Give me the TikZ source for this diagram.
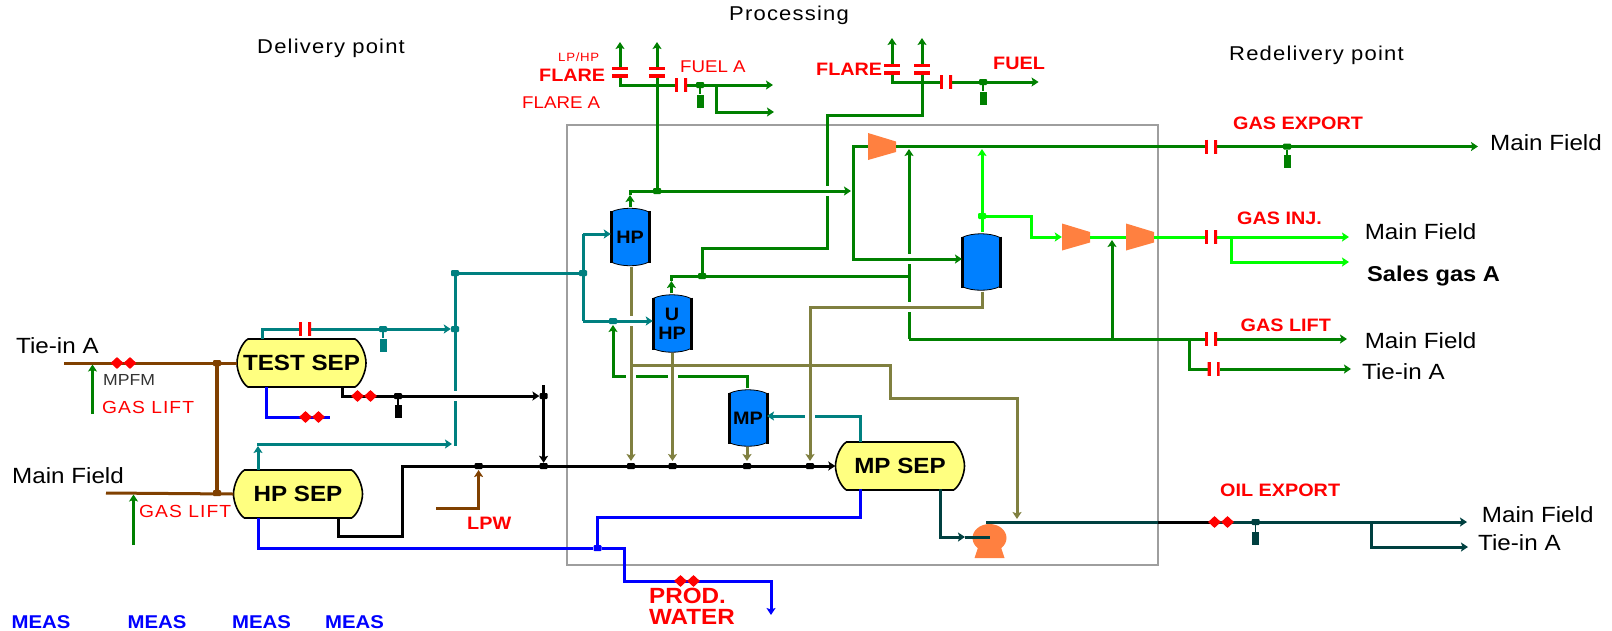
\documentclass[tikz,border=0pt]{standalone}
\usepackage{fontspec}
\setmainfont{Liberation Sans}[FakeStretch=1.1]
\newfontfamily\spacedfont{Liberation Sans}[FakeStretch=1.1,LetterSpace=6]
\usetikzlibrary{arrows.meta, shapes.geometric}
\definecolor{pipegreen}{RGB}{0,128,0}
\definecolor{pipelime}{RGB}{0,255,0}
\definecolor{pipeteal}{RGB}{0,128,128}
\definecolor{pipedark}{RGB}{0,64,64}
\definecolor{pipebrown}{RGB}{128,64,0}
\definecolor{pipeolive}{RGB}{128,128,64}
\definecolor{pipeblue}{RGB}{0,0,255}
\definecolor{drumblue}{RGB}{0,128,255}
\definecolor{sepyellow}{RGB}{255,255,128}
\definecolor{machineorange}{RGB}{255,128,64}
\newcommand{\sz}[1]{\fontsize{#1}{#1}\selectfont}
% name, x, y, label
\newcommand{\separator}[4]{
	\filldraw [fill=sepyellow, draw=black, line width=1.6pt]
		(#2-53.5,#3-24) -- (#2+53.5,#3-24)
		.. controls (#2+59,#3-21) and (#2+64.5,#3-9) .. (#2+64.5,#3)
		.. controls (#2+64.5,#3+9) and (#2+59,#3+21) .. (#2+53.5,#3+24)
		-- (#2-53.5,#3+24)
		.. controls (#2-59,#3+21) and (#2-64.5,#3+9) .. (#2-64.5,#3)
		.. controls (#2-64.5,#3-9) and (#2-59,#3-21) .. cycle;
	\node (#1) [sepnode] at (#2,#3) {#4};
}
% name, x, y, half height, label
\newcommand{\drum}[5]{
	\filldraw [fill=drumblue, draw=black, line width=.8pt]
		(#2-19,#3-#4+5) .. controls (#2-9,#3-#4) and (#2+9,#3-#4) .. (#2+19,#3-#4+5)
		-- (#2+19,#3+#4-5) .. controls (#2+9,#3+#4) and (#2-9,#3+#4) .. (#2-19,#3+#4-5) -- cycle;
	\draw [black, line width=3pt] (#2-19,#3-#4+4) -- (#2-19,#3+#4-4) (#2+19,#3-#4+4) -- (#2+19,#3+#4-4);
	\node (#1) [drumnode, minimum height=2*#4] at (#2,#3) {#5};
}
% name, x, y
\newcommand{\compressor}[3]{
	\fill [machineorange] (#2-14,#3-13.5) -- (#2+14,#3-5) -- (#2+14,#3+5.5) -- (#2-14,#3+13.5) -- cycle;
	\node (#1) [machinenode] at (#2,#3) {};
}
% name, x, y
\newcommand{\pump}[3]{
	\fill [machineorange] (#2,#3) ellipse [x radius=17, y radius=14];
	\fill [machineorange] (#2-11,#3+8) -- (#2+11,#3+8) -- (#2+15,#3+20) -- (#2-15,#3+20) -- cycle;
	\node (#1) [machinenode] at (#2,#3) {};
}
% name, x, y
\newcommand{\meter}[3]{
	\node (#1a) [meternode] at (#2-6.5,#3) {};
	\node (#1b) [meternode] at (#2+6.5,#3) {};
}

\begin{document}
\begin{tikzpicture} [x=1pt, y=-1pt,
		% define styles
		sepnode/.style={
			rectangle,
			minimum width=129pt,
			minimum height=48pt,
			inner sep=0pt,
			font=\sz{22}\bfseries
		},
		drumnode/.style={
			rectangle,
			minimum width=38pt,
			inner sep=0pt,
			align=center,
			font=\sz{18}\bfseries
		},
		machinenode/.style={
			rectangle,
			minimum width=28pt,
			minimum height=27pt,
			inner sep=0pt
		},
		meternode/.style={
			diamond,
			fill=red,
			minimum width=13pt,
			minimum height=12pt,
			inner sep=0pt
		},
		orificeh/.style={
			rectangle,
			fill=white,
			minimum width=12pt,
			minimum height=14pt,
			inner sep=0pt,
			path picture={\draw [red, line width=6pt]
				(path picture bounding box.north west) -- (path picture bounding box.south west)
				(path picture bounding box.north east) -- (path picture bounding box.south east);}
		},
		orificev/.style={
			rectangle,
			fill=white,
			minimum width=16pt,
			minimum height=10pt,
			inner sep=0pt,
			path picture={\draw [red, line width=6pt]
				(path picture bounding box.north west) -- (path picture bounding box.north east)
				(path picture bounding box.south west) -- (path picture bounding box.south east);}
		},
		dotnode/.style={
			rectangle,
			fill=#1,
			rounded corners=1pt,
			minimum width=8pt,
			minimum height=6pt,
			inner sep=0pt
		},
		blindnode/.style={
			rectangle,
			fill=#1,
			minimum width=7pt,
			minimum height=13pt,
			inner sep=0pt
		},
		gapnode/.style={
			rectangle,
			fill=white,
			inner sep=0pt,
			minimum width=#1
		},
		gapv/.style={gapnode=10pt, minimum height=10pt},
		pipe/.style={
			line width=3pt,
			>={Stealth[length=7pt, width=9pt, inset=1.5pt]}
		},
		greenline/.style={pipe, pipegreen},
		limeline/.style={pipe, pipelime},
		tealline/.style={pipe, pipeteal},
		darkline/.style={pipe, pipedark},
		brownline/.style={pipe, pipebrown},
		oliveline/.style={pipe, pipeolive},
		blueline/.style={pipe, pipeblue},
		blackline/.style={pipe, black},
		titlenode/.style={anchor=west, inner sep=0pt, font=\sz{20}\spacedfont},
		placenode/.style={anchor=west, inner sep=0pt, font=\sz{22}},
		tagnode/.style={anchor=west, inner sep=0pt, text=red, font=\sz{18}\bfseries},
		liftnode/.style={anchor=west, inner sep=0pt, text=red, font=\sz{17.5}\spacedfont},
		fuelnode/.style={anchor=west, inner sep=0pt, text=red, font=\sz{17}},
		measnode/.style={anchor=west, inner sep=0pt, text=pipeblue, font=\sz{18.5}\bfseries}
		]
		% end of style definition
		\useasboundingbox (0,0) rectangle (1612,630);

		% plant boundary
		\node (iPlant) [draw=black!38, line width=1.5pt, minimum width=591pt, minimum height=440pt, inner sep=0pt] at (862.5,345) {};

		% draw vessels and machines
		\separator{iTestSep}{301.5}{363}{TEST SEP}
		\separator{iHpSep}{298}{494}{HP SEP}
		\separator{iMpSep}{900}{466}{MP SEP}
		\drum{iHp}{630}{237}{30}{HP}
		\drum{iUHp}{672}{323.5}{30}{U\\[1pt]HP}
		\drum{iMp}{748}{418}{29.5}{MP}
		\drum{iDrum}{981}{262}{29.5}{}
		\compressor{iComp1}{882}{146.5}
		\compressor{iComp2}{1076}{237}
		\compressor{iComp3}{1140}{237}
		\pump{iPump}{989.5}{538}

		% free ends and bends
		\coordinate (iTieIn) at (64,363);
		\coordinate (iMainIn) at (106,493);
		\coordinate (iLift1) at (92.5,414);
		\coordinate (iLift1Top) at (92.5,364.5);
		\coordinate (iLift2) at (133.5,545);
		\coordinate (iLift2Top) at (133.5,494.5);
		\coordinate (iTestGas) at (262,339);
		\coordinate (iTestOil) at (342,387);
		\coordinate (iTestWater) at (266,387);
		\coordinate (iTestWaterEnd) at (330,417);
		\coordinate (iHpGas) at (258,470);
		\coordinate (iHpGasTip) at (258,446);
		\coordinate (iHpOil) at (338.6,518);
		\coordinate (iHpWater) at (258,518);
		\coordinate (iBlackA) at (402,536);
		\coordinate (iBlackB) at (402,466);
		\coordinate (iLpwIn) at (436,508);
		\coordinate (iLpwTip) at (478.6,470);
		\coordinate (iTealB) at (455,445.5);
		\coordinate (iTealTip) at (452,444);
		\coordinate (iTealHp) at (583,234);
		\coordinate (iTealUHp) at (583,321);
		\coordinate (iHpTip) at (630,195);
		\coordinate (iUHpTip) at (671.4,281);
		\coordinate (iUHpEnd) at (909,276);
		\coordinate (iFlare1) at (620,42);
		\coordinate (iFuelAEnd) at (773,85);
		\coordinate (iFlare2) at (657,42);
		\coordinate (iFuelABranch) at (716,85);
		\coordinate (iFuelAEnd2) at (774,112);
		\coordinate (iFlare3) at (892,38);
		\coordinate (iFuelEnd) at (1038.6,82);
		\coordinate (iFlare4) at (922,38);
		\coordinate (iFlare4A) at (827,115);
		\coordinate (iFlare4B) at (702,248);
		\coordinate (iHeaderEnd) at (851,191);
		\coordinate (iCompDown) at (853,259);
		\coordinate (iDrumIn) at (962,259);
		\coordinate (iExportEnd) at (1478,146.5);
		\coordinate (iLiftCorner) at (909,339);
		\coordinate (iLiftTip) at (909,149);
		\coordinate (iLiftEnd) at (1347,339);
		\coordinate (iLiftBranch) at (1189,339);
		\coordinate (iLiftEnd2) at (1351,369);
		\coordinate (iLiftTee) at (1112,339);
		\coordinate (iLiftUp) at (1112,240);
		\coordinate (iDrumTip) at (982,149);
		\coordinate (iLimeBend) at (1031,237);
		\coordinate (iGasEnd) at (1349,237);
		\coordinate (iGasBranch) at (1231.6,239);
		\coordinate (iSalesEnd) at (1349,262);
		\coordinate (iMpGasOut) at (860.7,442);
		\coordinate (iMpWaterOut) at (860.7,489);
		\coordinate (iMpOilOut) at (940,489);
		\coordinate (iPumpIn) at (965,537);
		\coordinate (iPumpMid) at (990,537);
		\coordinate (iOilStart) at (986,522);
		\coordinate (iBoxEdge) at (1158,522);
		\coordinate (iOilEnd) at (1467,522);
		\coordinate (iOilBranch) at (1371,522);
		\coordinate (iOilEnd2) at (1468,547);
		\coordinate (iOilMeterIn) at (1212,522);
		\coordinate (iOliveA) at (631,267);
		\coordinate (iOliveTip1) at (631,461);
		\coordinate (iOliveJoin) at (631,365);
		\coordinate (iOliveB) at (890,398);
		\coordinate (iOliveTip2) at (1017,519);
		\coordinate (iOliveC) at (672.5,353);
		\coordinate (iOliveTip3) at (672.5,461);
		\coordinate (iOliveD) at (747,447);
		\coordinate (iOliveTip4) at (747,461);
		\coordinate (iOliveE) at (982,291.5);
		\coordinate (iOliveF) at (810,307);
		\coordinate (iOliveTip5) at (810,461);
		\coordinate (iMpGreen) at (747,389);
		\coordinate (iMpGreenB) at (613,376);
		\coordinate (iMpGreenTip) at (613,325);
		\coordinate (iMpTeal) at (860.7,416);
		\coordinate (iMpTealEnd) at (767,416);
		\coordinate (iBlueCorner) at (597.5,517);
		\coordinate (iBlueBend) at (624,581);
		\coordinate (iBlueEnd) at (771,615);
		\coordinate (iBlackTop) at (543.6,385);

		% draw junctions
		\node (iBrown1) [dotnode=pipebrown] at (217,363) {};
		\node (iBrown2) [dotnode=pipebrown] at (217,493) {};
		\node (iTestTee) [dotnode=pipeteal] at (383,329) {};
		\node (iTealDot1) [dotnode=pipeteal] at (455,329) {};
		\node (iTealDot2) [dotnode=pipeteal] at (455,273) {};
		\node (iTealDot3) [dotnode=pipeteal] at (583,273) {};
		\node (iTealDot4) [dotnode=pipeteal] at (613,321) {};
		\node (iOilTee1) [dotnode=black] at (398,396) {};
		\node (iBlackDot1) [dotnode=black] at (543.6,396) {};
		\node (iBlackDot2) [dotnode=black] at (543.6,466) {};
		\node (iBlackDot3) [dotnode=black] at (478.6,466) {};
		\node (iBlackDot4) [dotnode=black] at (631,466) {};
		\node (iBlackDot5) [dotnode=black] at (672.5,466) {};
		\node (iBlackDot6) [dotnode=black] at (747,466) {};
		\node (iBlackDot7) [dotnode=black] at (810,466) {};
		\node (iFuelATee) [dotnode=pipegreen] at (700,85) {};
		\node (iFuelTee) [dotnode=pipegreen] at (983,82) {};
		\node (iHpDot) [dotnode=pipegreen] at (657,191) {};
		\node (iUHpDot) [dotnode=pipegreen] at (702,276) {};
		\node (iExportTee) [dotnode=pipegreen] at (1287,146.5) {};
		\node (iLimeDot) [dotnode=pipelime] at (982,216) {};
		\node (iBlueDot) [dotnode=pipeblue] at (597.5,548) {};
		\node (iOilTee2) [dotnode=pipedark] at (1255.7,522) {};

		% connect nodes: lines that other lines break
		\draw [tealline] (iTealDot2) -- (iTealDot1);
		\draw [tealline] (iTealDot1) -- (iTealB);
		\draw [greenline, <-] (iFlare4) |- (iFlare4A) |- (iFlare4B) -- (iUHpDot);
		\draw [greenline] (iLiftCorner) -- (iUHpEnd);
		\draw [greenline, ->] (iUHpEnd) -- (iLiftTip);
		\draw [greenline, ->] (iMp.north -| iMpGreen) |- (iMpGreenB) -- (iMpGreenTip);
		\draw [tealline, ->] (iMpGasOut) |- (iMpTeal) -- (iMpTealEnd);
		\node (iGap1) [gapv] at (909,259) {};
		\node (iGap2) [gapv] at (909,307) {};
		\node (iGap3) [gapv] at (827,191) {};
		\node (iGap4) [gapv] at (631,376) {};
		\node (iGap5) [gapv] at (672.5,376) {};
		\node (iGap6) [gapv] at (810,416) {};
		\node (iGap7) [gapv] at (455,396) {};

		% olive lines
		\draw [oliveline, ->] (iOliveA) -- (iOliveTip1);
		\draw [oliveline, ->] (iOliveJoin) -| (iOliveB) -| (iOliveTip2);
		\draw [oliveline, ->] (iOliveC) -- (iOliveTip3);
		\draw [oliveline, ->] (iOliveD) -- (iOliveTip4);
		\draw [oliveline, ->] (iOliveE) |- (iOliveF) -- (iOliveTip5);
		\node (iGap8) [gapv] at (631,321) {};

		% brown lines
		\draw [brownline] (iTieIn) -- (iTestSep.west);
		\draw [brownline] (iMainIn) -- (iHpSep.west);
		\draw [brownline, line width=3.5pt] (iBrown1) -- (iBrown2);
		\draw [brownline, ->] (iLpwIn) -| (iLpwTip);
		\draw [greenline, ->] (iLift1) -- (iLift1Top);
		\draw [greenline, ->] (iLift2) -- (iLift2Top);

		% teal lines
		\draw [tealline, ->] (iTestGas) |- (iTealDot1);
		\draw [tealline, ->] (iHpGas) -- (iHpGasTip);
		\draw [tealline, ->] (iHpGasTip) |- (iTealTip);
		\draw [tealline] (iTealDot2) -- (iTealDot3);
		\draw [tealline, ->] (iTealHp) -- (iHp.west |- iTealHp);
		\draw [tealline] (iTealHp) -- (iTealUHp);
		\draw [tealline, ->] (iTealUHp) -- (iUHp.west |- iTealUHp);

		% black lines
		\draw [blackline, ->] (iTestOil) |- (iBlackDot1);
		\draw [blackline, ->] (iBlackTop) -- (iBlackDot2);
		\draw [blackline, ->] (iHpOil) |- (iBlackA) -- (iBlackB) -- (iMpSep.west);

		% blue lines
		\draw [blueline] (iTestWater) |- (iTestWaterEnd);
		\draw [blueline] (iHpWater) |- (iBlueDot);
		\draw [blueline] (iMpWaterOut) |- (iBlueCorner) -- (iBlueDot);
		\draw [blueline, ->] (iBlueDot) -| (iBlueBend) -| (iBlueEnd);

		% green lines
		\draw [greenline, <->] (iFlare1) |- (iFuelAEnd);
		\draw [greenline, <-] (iFlare2) -- (iHpDot);
		\draw [greenline, ->] (iFuelABranch) |- (iFuelAEnd2);
		\draw [greenline, <->] (iFlare3) |- (iFuelEnd);
		\draw [greenline, ->] (iHp.north) -- (iHpTip);
		\draw [greenline] (iHpTip) |- (iHpDot);
		\draw [greenline, ->] (iHpDot) -- (iHeaderEnd);
		\draw [greenline, ->] (iUHp.north -| iUHpTip) -- (iUHpTip);
		\draw [greenline] (iUHpTip) |- (iUHpEnd);
		\draw [greenline, ->] (iComp1.west) -| (iCompDown) -- (iDrumIn);
		\draw [greenline, ->] (iComp1.east) -- (iExportEnd);
		\draw [greenline, ->] (iLiftCorner) -- (iLiftEnd);
		\draw [greenline, ->] (iLiftBranch) |- (iLiftEnd2);

		% lime lines
		\draw [limeline, ->] (iDrum.north -| iDrumTip) -- (iDrumTip);
		\draw [limeline, ->] (iLimeDot) -| (iLimeBend) -- (iComp2.west);
		\draw [limeline] (iComp2.east) -- (iComp3.west);
		\draw [limeline, ->] (iComp3.east) -- (iGasEnd);
		\draw [limeline, ->] (iGasBranch) |- (iSalesEnd);
		\draw [greenline, ->] (iLiftTee) -- (iLiftUp);

		% dark lines
		\draw [darkline, ->] (iMpOilOut) |- (iPumpIn);
		\draw [darkline] (iPumpIn) -- (iPumpMid);
		\draw [darkline] (iOilStart) -- (iBoxEdge);
		\draw [blackline] (iBoxEdge) -- (iOilMeterIn);
		\draw [darkline, ->] (iOilMeterIn) -- (iOilEnd);
		\draw [darkline, ->] (iOilBranch) |- (iOilEnd2);

		% draw valves
		\meter{iMeter1}{123.5}{363}
		\meter{iMeter2}{364}{396}
		\meter{iMeter3}{312}{417}
		\meter{iMeter4}{687}{581}
		\meter{iMeter5}{1221}{522}
		\node (iOrifice1) [orificeh] at (305,329) {};
		\node (iOrifice2) [orificeh] at (681,85) {};
		\node (iOrifice3) [orificeh] at (946,82) {};
		\node (iOrifice4) [orificeh] at (1211,146.5) {};
		\node (iOrifice5) [orificeh] at (1211,237) {};
		\node (iOrifice6) [orificeh] at (1211,339) {};
		\node (iOrifice7) [orificeh] at (1213.5,369) {};
		\node (iOrifice8) [orificev] at (620,72) {};
		\node (iOrifice9) [orificev] at (657,72) {};
		\node (iOrifice10) [orificev] at (892,69) {};
		\node (iOrifice11) [orificev] at (922,69) {};

		% draw blind ends
		\node (iBlind1) [blindnode=pipeteal] at (383,345) {};
		\node (iBlind2) [blindnode=black] at (398,411.5) {};
		\node (iBlind3) [blindnode=pipegreen] at (700,101) {};
		\node (iBlind4) [blindnode=pipegreen] at (983,98) {};
		\node (iBlind5) [blindnode=pipegreen] at (1287,161.5) {};
		\node (iBlind6) [blindnode=pipedark] at (1255.7,538.5) {};
		\draw [tealline, line width=1.5pt] (iTestTee) -- (iBlind1);
		\draw [pipe, black, line width=1.5pt] (iOilTee1) -- (iBlind2);
		\draw [greenline, line width=1.5pt] (iFuelATee) -- (iBlind3);
		\draw [greenline, line width=1.5pt] (iFuelTee) -- (iBlind4);
		\draw [greenline, line width=1.5pt] (iExportTee) -- (iBlind5);
		\draw [darkline, line width=1.5pt] (iOilTee2) -- (iBlind6);

		% draw labels
		\node (iTitle1) [titlenode] at (257,48) {Delivery point};
		\node (iTitle2) [titlenode] at (729,15) {Processing};
		\node (iTitle3) [titlenode] at (1229,55) {Redelivery point};
		\node (iPlace1) [placenode] at (16,346) {Tie-in A};
		\node (iPlace2) [placenode] at (12,476) {Main Field};
		\node (iPlace3) [placenode] at (1490,143) {Main Field};
		\node (iPlace4) [placenode] at (1364.6,232) {Main Field};
		\node (iPlace5) [placenode] at (1367,276) {\bfseries\sz{21.5}Sales gas A};
		\node (iPlace6) [placenode] at (1364.6,341) {Main Field};
		\node (iPlace7) [placenode] at (1362,372) {Tie-in A};
		\node (iPlace8) [placenode] at (1481.7,515) {Main Field};
		\node (iPlace9) [placenode] at (1478,543) {Tie-in A};
		\node (iMpfm) [anchor=west, inner sep=0pt, text=black!80, font=\sz{16}] at (103,380) {MPFM};
		\node (iTag1) [liftnode] at (102,407) {GAS LIFT};
		\node (iTag2) [liftnode] at (139,511) {GAS LIFT};
		\node (iTag3) [tagnode] at (467,523) {LPW};
		\node (iTag4) [anchor=west, inner sep=0pt, text=red, font=\sz{12}\spacedfont] at (558,57) {LP/HP};
		\node (iTag5) [tagnode] at (539,75) {FLARE};
		\node (iTag6) [fuelnode] at (522,103) {FLARE A};
		\node (iTag7) [fuelnode] at (680,67) {FUEL A};
		\node (iTag8) [tagnode] at (816,69) {FLARE};
		\node (iTag9) [tagnode] at (993,63) {FUEL};
		\node (iTag10) [tagnode] at (1233,123) {GAS EXPORT};
		\node (iTag11) [tagnode] at (1237,218) {GAS INJ.};
		\node (iTag12) [tagnode] at (1240.5,325) {GAS LIFT};
		\node (iTag13) [tagnode] at (1220,490) {OIL EXPORT};
		\node (iWater) [anchor=north west, inner sep=0pt, text=red, align=left, font=\fontsize{22}{21}\selectfont\bfseries] at (649,588) {PROD.\\WATER};
		\node (iMeas1) [measnode] at (11.5,622) {MEAS};
		\node (iMeas2) [measnode] at (127.5,622) {MEAS};
		\node (iMeas3) [measnode] at (232,622) {MEAS};
		\node (iMeas4) [measnode] at (325,622) {MEAS};
	\end{tikzpicture}
\end{document}
